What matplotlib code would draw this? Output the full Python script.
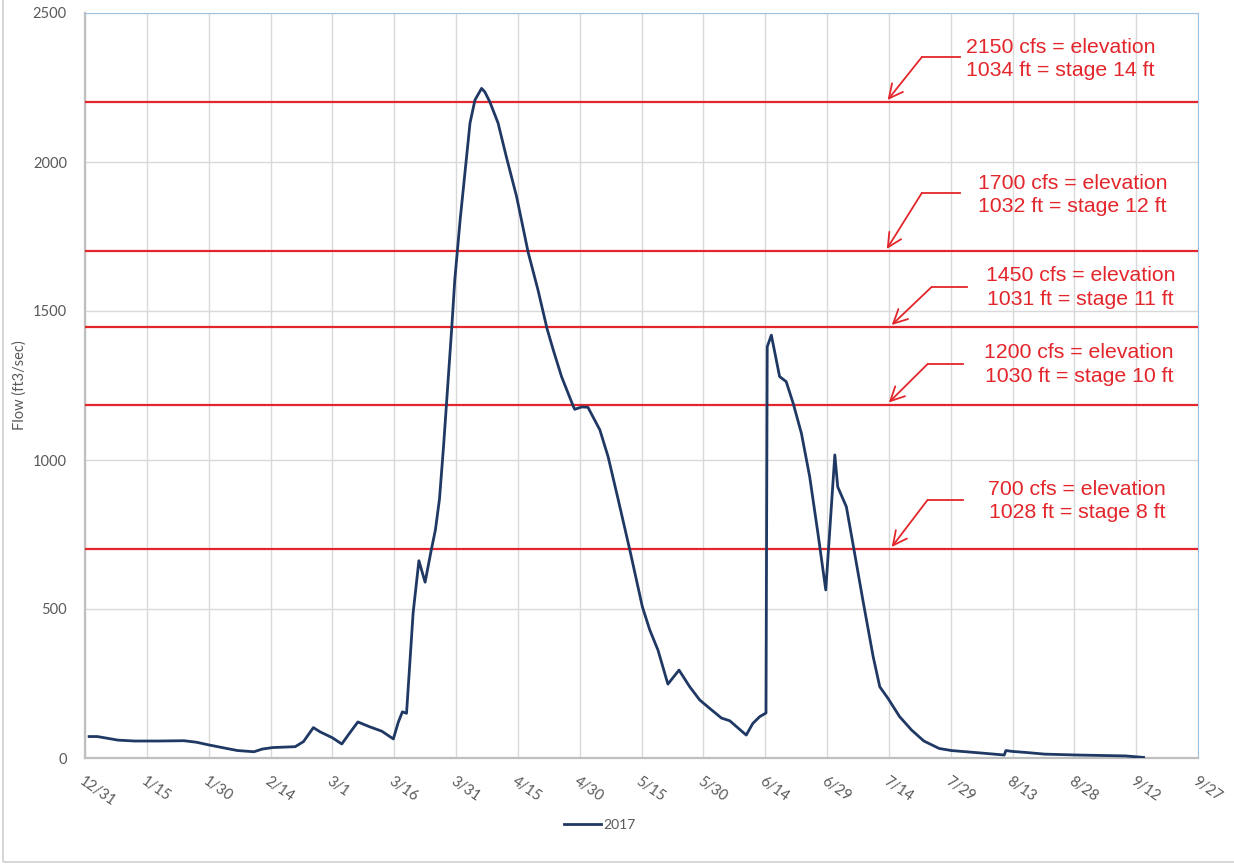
import matplotlib.pyplot as plt
from matplotlib.patches import Rectangle

# days counted from 12/31/2016, flow in ft3/sec
days = [1, 3, 8, 12, 18, 24, 27, 30, 34, 37, 41, 43, 45.5, 51, 53, 55.4, 57, 60,
        62.3, 64, 66.2, 69, 72, 74.8, 76, 77, 78, 79.6, 81, 82.5, 84, 85, 86, 87,
        88, 89, 89.7, 91, 92.4, 93.4, 94.6, 96.2, 97, 98.2, 100.2, 102.2, 104.7,
        107.5, 109.9, 112.1, 113.6, 115.6, 118.4, 118.8, 120.5, 122, 124.9, 126.9,
        129.3, 132.2, 135.2, 137, 139, 141.4, 144.1, 146.7, 149.1, 151.5, 154.4,
        156.4, 160.4, 162, 163.7, 165.2, 165.5, 166.5, 168.5, 170.1, 171.8, 173.8,
        175.8, 177.8, 179.7, 181.9, 182.6, 184.7, 186.7, 188.7, 191.2, 192.8,
        194.8, 197.6, 200.5, 203.5, 207.2, 210.2, 218, 223, 223.4, 225, 227.9,
        232.8, 240.7, 248.4, 252.4, 256.8]
flow = [72, 72, 60, 57, 57, 58, 53, 44, 33, 25, 21, 30, 35, 38, 55, 102, 88, 68,
        47, 80, 121, 105, 90, 64, 120, 155, 150, 487, 662, 590, 698, 765, 870, 1050,
        1250, 1450, 1604, 1805, 1995, 2131, 2208, 2247, 2235, 2202, 2131, 2018, 1884,
        1697, 1570, 1440, 1369, 1280, 1182, 1170, 1178, 1177, 1101, 1011,
        870, 696, 508, 430, 362, 248, 295, 239, 195, 167, 134,
        125, 77, 116, 139, 151, 1380, 1419, 1280, 1263, 1190, 1089,
        944, 754, 564, 1017, 910, 843, 687, 530, 340, 239,
        200, 139, 94, 57, 32, 25, 16, 10, 25, 22, 19,
        13, 10, 8, 7, 2]

tick_days = list(range(0, 271, 15))
tick_labels = ["12/31", "1/15", "1/30", "2/14", "3/1", "3/16", "3/31", "4/15",
               "4/30", "5/15", "5/30", "6/14", "6/29", "7/14", "7/29", "8/13",
               "8/28", "9/12", "9/27"]

level_flows = [2200, 1700, 1445, 1185, 700]
level_texts = ["2150 cfs = elevation\n1034 ft = stage 14 ft",
               "1700 cfs = elevation\n1032 ft = stage 12 ft",
               "1450 cfs = elevation\n1031 ft = stage 11 ft",
               "1200 cfs = elevation\n1030 ft = stage 10 ft",
               "700 cfs = elevation\n1028 ft = stage 8 ft"]
# annotation layout: text centre, elbow start/end and arrow tip (days, cfs)
text_pos = [(236.7, 2346), (239.6, 1889), (241.5, 1579), (241.1, 1320), (240.6, 862)]
elbow_x = [(212.2, 203.0), (212.2, 203.0), (213.9, 205.4), (212.9, 204.4), (212.9, 204.4)]
elbow_y = [2352, 1896, 1581, 1322, 866]
tip_x = [194.7, 194.5, 195.7, 195.0, 195.7]

red = "#e3262b"
navy = "#1f3864"
grey = "#595959"

plt.rcParams['font.family'] = ['Lato', 'DejaVu Sans']

fig = plt.figure(figsize=(12.34, 8.65), dpi=100)
ax = fig.add_axes([85 / 1234, 107 / 865, 1113 / 1234, 745 / 865])

fig.patches.append(Rectangle((3 / 1234, 3 / 865), 1.2, 1.2, transform=fig.transFigure,
                             fill=False, edgecolor="#d0d0d0", linewidth=1.2))

ax.plot(days, flow, color=navy, linewidth=2.0, label="2017", zorder=4)

for lv in level_flows:
    ax.axhline(lv, color=red, linewidth=1.6, zorder=3)

for txt, (tx, ty), (ex0, ex1), ey, lv, tipx in zip(level_texts, text_pos, elbow_x,
                                                     elbow_y, level_flows, tip_x):
    ax.text(tx, ty, txt, color=red, fontsize=15.3, ha="center", va="center",
            family=["Liberation Sans", "DejaVu Sans"], linespacing=1.3)
    ax.plot([ex0, ex1], [ey, ey], color=red, linewidth=1.3)
    ax.annotate("", xy=(tipx, lv + 8), xytext=(ex1, ey),
                arrowprops=dict(arrowstyle="->,head_length=1.0,head_width=0.5",
                                color=red, linewidth=1.3, shrinkA=0, shrinkB=0))

ax.set_xlim(0, 270)
ax.set_ylim(0, 2500)
ax.set_xticks(tick_days)
ax.set_xticklabels(tick_labels, rotation=-35, ha="left", rotation_mode="anchor",
                   color=grey, fontsize=10.5)
ax.set_yticks(range(0, 2501, 500))
ax.tick_params(axis="y", labelcolor=grey, labelsize=10.5, length=0, pad=13)
ax.tick_params(axis="x", length=0, pad=12)

ax.grid(True, color="#d9d9d9", linewidth=1.0)
ax.set_axisbelow(True)
ax.spines["left"].set_color("#bfbfbf")
ax.spines["bottom"].set_color("#bfbfbf")
ax.spines["left"].set_linewidth(1.6)
ax.spines["bottom"].set_linewidth(1.6)
ax.spines["top"].set_color("#9dc3e6")
ax.spines["right"].set_color("#9dc3e6")

ax.set_ylabel("Flow (ft3/sec)", color=grey, fontsize=10.5)
ax.yaxis.set_label_coords(-58 / 1113, 0.5)

fig.legend(loc="center", bbox_to_anchor=(600 / 1234, 1 - 825 / 865), frameon=False,
           fontsize=10, labelcolor=grey, handlelength=2.6, handletextpad=0.2)

fig.savefig("out.png", dpi=100)
